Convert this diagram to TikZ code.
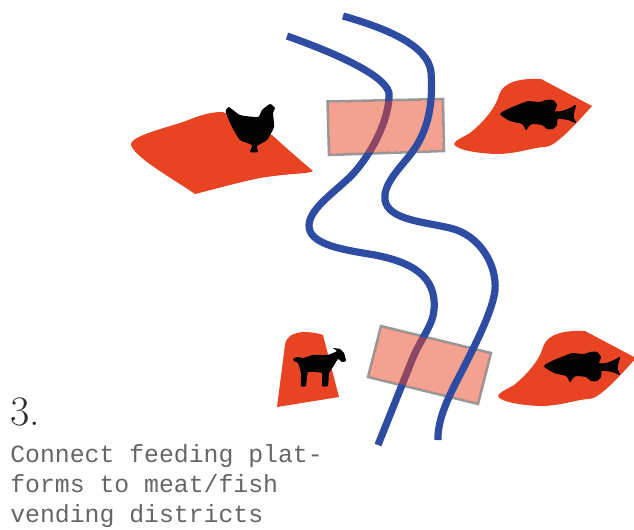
\documentclass[tikz,border=0pt]{standalone}
\usepackage{fontspec}
\setmonofont{Liberation Mono}
\definecolor{redland}{HTML}{E84424}
\definecolor{river}{HTML}{2F4CA3}
\definecolor{platedge}{HTML}{999999}
\definecolor{capgray}{HTML}{666666}
\definecolor{numgray}{HTML}{2E2E2E}
\tikzset{
  land/.style={fill=redland,draw=none},
  animal/.style={fill=black,draw=none},
  riverline/.style={draw=river,line width=5.4pt,line join=round},
  platform/.style={draw=platedge,line width=1.9pt},
  platfill/.style={fill=redland,fill opacity=.5,draw=none},
  caption/.style={anchor=base west,inner sep=0pt,font=\ttfamily\fontsize{18.6pt}{22pt}\selectfont,text=capgray}
}
\newcommand{\fishscene}[2]{%
  \begin{scope}[shift={(#1,#2)}]
    \fill[land] (541,79) .. controls (520,78) and (503,82) .. (499,95)
      .. controls (495,110) and (480,125) .. (470,133)
      .. controls (462,138) and (455,140) .. (454,144)
      .. controls (456,150) and (480,154) .. (500,154)
      .. controls (520,153) and (535,147) .. (545,147)
      .. controls (555,147) and (575,125) .. (592,106) -- cycle;
    \fill[animal] plot[smooth cycle,tension=.4] coordinates {(500,114) (510,108) (525,102) (528,101) (540,102) (546,100) (553,100) (557,105) (555,111) (562,111) (570,108) (576,105) (574,113) (574,118) (576,123) (568,120) (558,119) (557,125) (553,129) (547,129) (542,125) (532,124) (529,126) (526,130) (522,124) (510,121)};
  \end{scope}}
\begin{document}
\begin{tikzpicture}[x=0.75pt,y=-0.75pt]
\useasboundingbox (0,0) rectangle (634,529);
% land patches
\fill[land] (131,145) .. controls (130,138) and (150,132) .. (180,123)
  .. controls (195,118) and (205,112) .. (223,112) -- (272,135)
  .. controls (285,147) and (300,160) .. (313,171)
  .. controls (310,174) and (290,173) .. (260,178)
  .. controls (240,182) and (215,189) .. (195,194)
  .. controls (175,180) and (135,158) .. (131,145) -- cycle;
\fill[land] (277,407) -- (285,345) .. controls (286,337) and (292,333) .. (303,332)
  .. controls (310,332) and (318,333) .. (323,335) -- (339,397) -- cycle;
\fishscene{0}{0}
\fishscene{44}{252}
% animals
\fill[animal] plot[smooth cycle,tension=.3] coordinates {(226,110) (229,107) (240,115) (258,117) (262,110) (270,104) (275,108) (273,113) (274,127) (267,140) (257,146) (258,152) (250,152) (252,145) (240,140) (232,127) (226,113)};
\fill[animal] plot[smooth cycle,tension=.2] coordinates {(293,359) (297,357) (303,358) (313,355) (327,355) (333,353) (337,351) (333,348) (340,349) (344,353) (346,361) (342,362) (338,359) (333,367) (329,373) (328,386) (322,386) (322,373) (308,372) (306,386) (301,386) (301,373) (298,363) (294,361)};
% platform outlines
\draw[platform] (327.5,101.5) -- (443,99) -- (444,151) -- (329,155) -- cycle;
\draw[platform] (381,326) -- (491,353) -- (478,404) -- (368,377) -- cycle;
% left river, beneath the platforms
\draw[riverline] (287,36) .. controls (335,53) and (385,75) .. (389,93)
  .. controls (390,115) and (375,150) .. (352,175)
  .. controls (335,192) and (310,208) .. (309,225)
  .. controls (308,245) and (345,250) .. (375,255)
  .. controls (410,262) and (437,275) .. (434,310)
  .. controls (433,325) and (420,340) .. (412,360) -- (378,445);
% translucent platforms, inset so the grey edge stays clean
\fill[platfill] (328.6,102.6) -- (441.9,100.1) -- (442.9,149.9) -- (330,153.9) -- cycle;
\fill[platfill] (381.8,327.3) -- (489.7,353.8) -- (477.3,402.7) -- (369.3,376.2) -- cycle;
% right river, above the platforms
\draw[riverline] (343,16) .. controls (385,28) and (428,45) .. (431,72)
  .. controls (433,100) and (430,130) .. (410,155)
  .. controls (398,170) and (383,185) .. (385,200)
  .. controls (388,220) and (425,222) .. (450,228)
  .. controls (480,235) and (497,265) .. (495,290)
  .. controls (493,310) and (475,345) .. (465,365)
  .. controls (455,385) and (437,415) .. (438,440);
% text
\node[anchor=base west,inner sep=0pt,text=numgray,font=\fontsize{31.5pt}{34pt}\selectfont] (num) at (10,425) {3.};
\node[caption] (l1) at (10,462) {Connect feeding plat-};
\node[caption] (l2) at (10,492) {forms to meat/fish};
\node[caption] (l3) at (10,522) {vending districts};
\end{tikzpicture}
\end{document}
